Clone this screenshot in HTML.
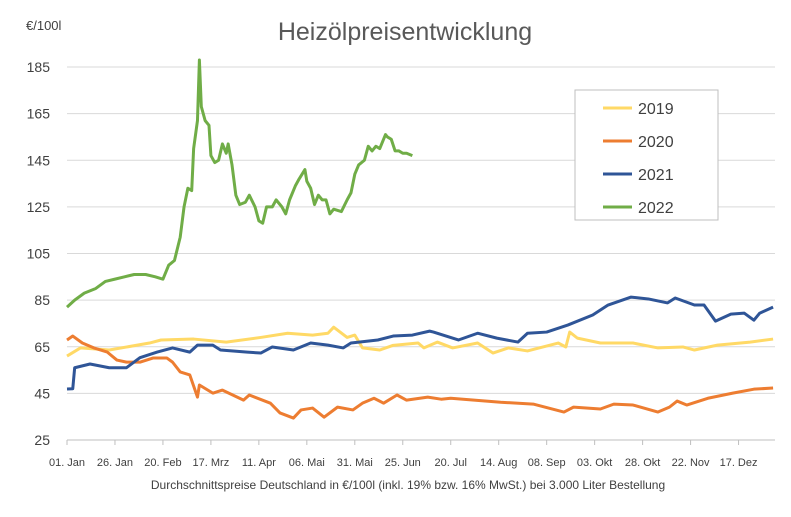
<!DOCTYPE html>
<html><head><meta charset="utf-8"><style>
body{margin:0;background:#fff;font-family:"Liberation Sans",sans-serif}
svg text{font-family:"Liberation Sans",sans-serif;fill:#404040}
</style></head><body>
<svg id="c" width="791" height="512"></svg>
<script>
const yTicks=[25,45,65,85,105,125,145,165,185];
const xTickLabels=["01. Jan","26. Jan","20. Feb","17. Mrz","11. Apr","06. Mai","31. Mai","25. Jun","20. Jul","14. Aug","08. Sep","03. Okt","28. Okt","22. Nov","17. Dez"];
const xTickDays=[0,25,50,75,100,125,150,175,200,225,250,275,300,325,350];
const d2019=[0,7,22,43,49,66,83,101,115,128,136,139,146,150,154,163,170,183,186,193,201,214,222,230,240,256,260,262,266,278,295,308,321,327,339,356,368];
const v2019=[61,64.5,63.6,66.6,67.9,68.3,67,69,70.8,70,70.8,73.4,69,70,64.5,63.6,65.6,66.6,64.5,67,64.5,66.6,62.3,64.5,63.2,66.6,64.9,71.3,68.7,66.6,66.6,64.5,64.9,63.6,65.7,67,68.3];
const d2020=[0,3,8,14,21,26,31,38,45,52,55,59,64,68,69,76,81,92,95,106,111,118,122,128,134,141,149,154,160,165,172,177,188,195,200,226,243,259,264,278,285,295,308,314,318,323,334,347,358,368];
const v2020=[67.9,69.6,66.6,64.5,62.7,59.3,58.4,58.4,60.2,60.2,58.4,54.2,52.9,43.4,48.6,45.1,46.4,42.1,44.3,40.8,36.6,34.4,37.9,38.7,34.8,39.1,37.9,40.8,42.9,40.8,44.3,42.1,43.4,42.5,42.9,41.2,40.4,37,39.1,38.3,40.4,40,37,39.1,41.7,40,42.9,45.1,46.8,47.3];
const d2021=[0,3,4,12,22,31,38,47,55,64,68,76,80,94,101,107,118,127,136,144,148,162,170,180,189,191,204,214,224,235,240,250,261,274,282,294,303,313,317,327,332,338,346,353,358,361,368];
const v2021=[46.9,47,56,57.6,56,56,60.3,62.7,64.5,62.7,65.7,65.7,63.6,62.7,62.3,64.9,63.6,66.6,65.7,64.5,66.6,67.9,69.6,70,71.7,71.3,67.9,70.8,68.7,67,70.8,71.3,74.3,78.6,82.9,86.3,85.5,83.8,85.9,82.9,82.9,76,79,79.4,76.4,79.4,82];
const d2022=[0,4,9,15,20,25,30,35,41,46,50,53,56,59,61,63,65,66,68,69,70,72,74,75,77,79,81,83,84,86,88,90,93,95,98,100,102,104,107,109,112,114,116,119,121,124,125,127,129,131,133,135,137,139,143,146,148,150,152,155,157,159,161,163,164,166,167,169,171,173,175,177,180];
const v2022=[82,85,88,90,93,94,95,96,96,95,94,100,102,112,125,133,132,150,162,188,168,162,160,147,144,145,152,148,152,143,130,126,127,130,125,119,118,125,125,128,125,122,128,134,137,141,136,133,126,130,128,128,122,124,123,128,131,139,143,145,151,149,151,150,152,156,155,154,149,149,148,148,147];
const series=[["2019",d2019,v2019,"#ffd966"],["2020",d2020,v2020,"#ed7d31"],["2021",d2021,v2021,"#2f5597"],["2022",d2022,v2022,"#70ad47"]];
const NS="http://www.w3.org/2000/svg",svg=document.getElementById("c");
const X0=67,X1=775,Y0=440,Y1=67;
const xs=d=>X0+d*(X1-X0)/369;
const ys=v=>Y0-(v-25)*(Y0-Y1)/160;
function mk(t,a,p){const e=document.createElementNS(NS,t);for(const k in a)e.setAttribute(k,a[k]);(p||svg).appendChild(e);return e;}
let t=mk("text",{x:405,y:40,"text-anchor":"middle","font-size":25});t.textContent="Heizölpreisentwicklung";t.style.fill="#595959";


t=mk("text",{x:26,y:30,"font-size":13});t.textContent="€/100l";


yTicks.forEach(v=>{
 const l=mk("line",{x1:X0,x2:X1,y1:ys(v),y2:ys(v),stroke:"#d9d9d9","stroke-width":1});
 
 
 const tx=mk("text",{x:50,y:ys(v)+5,"text-anchor":"end","font-size":14});tx.textContent=v;
 
 
});
const ax=mk("line",{x1:X0,x2:X1,y1:Y0,y2:Y0,stroke:"#bfbfbf"});


xTickDays.forEach((d,i)=>{
 const tk=mk("line",{x1:xs(d),x2:xs(d),y1:Y0,y2:Y0+5,stroke:"#bfbfbf"});
 
 
 const tx=mk("text",{x:xs(d),y:466,"text-anchor":"middle","font-size":11});tx.textContent=xTickLabels[i];
 
 
});
t=mk("text",{x:408,y:489,"text-anchor":"middle","font-size":12});t.textContent="Durchschnittspreise Deutschland in €/100l (inkl. 19% bzw. 16%  MwSt.) bei 3.000 Liter Bestellung";


series.forEach(s=>{
 const p=mk("polyline",{points:s[1].map((d,i)=>xs(d)+","+ys(s[2][i])).join(" "),fill:"none",stroke:s[3],"stroke-width":3,"stroke-linejoin":"round"});
 
 
});
const lb=mk("rect",{x:575,y:90,width:143,height:130,fill:"#fff",stroke:"#bfbfbf"});


series.forEach((s,i)=>{
 const y=108+i*33;
 const l=mk("line",{x1:603,x2:632,y1:y,y2:y,stroke:s[3],"stroke-width":3});
 
 
 const tx=mk("text",{x:638,y:y+6,"font-size":16});tx.textContent=s[0];
 
 
});
</script>
</body></html>
